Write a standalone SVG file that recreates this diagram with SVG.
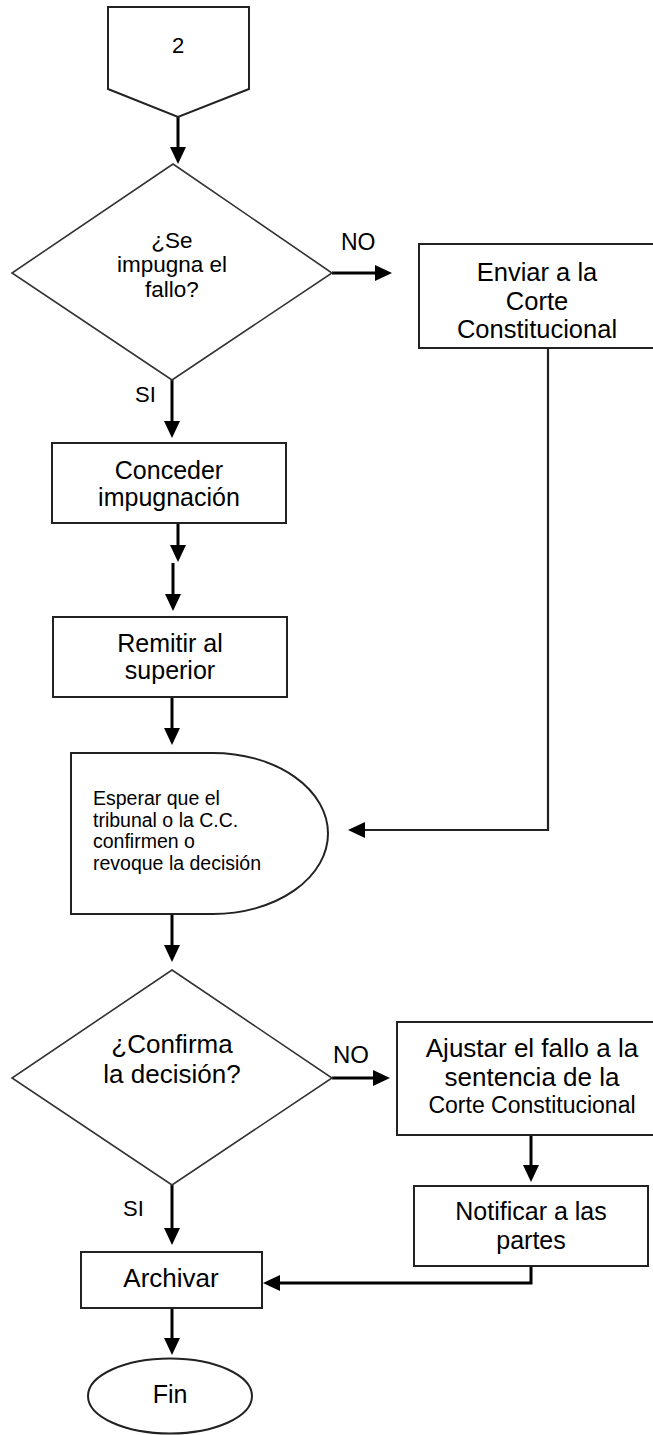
<svg xmlns="http://www.w3.org/2000/svg" width="653" height="1435" viewBox="0 0 653 1435">
<style>
  .shape { fill: #fff; stroke: #222; stroke-width: 2; }
  .dia { fill: #fff; stroke: #333; stroke-width: 1.6; }
  .conn { fill: none; stroke: #000; stroke-width: 3; }
  .thin { fill: none; stroke: #222; stroke-width: 2.2; }
  text { font-family: "Liberation Sans", Arial, sans-serif; fill: #000; }
  .c { text-anchor: middle; }
</style>
<defs>
  <marker id="ah" markerUnits="userSpaceOnUse" viewBox="0 0 17 16" refX="7" refY="8" markerWidth="17" markerHeight="16" orient="auto">
    <path d="M0,0 L17,8 L0,16 Z" fill="#000"/>
  </marker>
</defs>
<rect width="653" height="1435" fill="#fff"/>

<g id="connectors">
  <line class="conn" x1="178" y1="117" x2="178" y2="154" marker-end="url(#ah)"/>
  <line class="conn" x1="332" y1="273" x2="382" y2="273" marker-end="url(#ah)"/>
  <polyline class="thin" points="548,348 548,830 358,830" marker-end="url(#ah)"/>
  <line class="conn" x1="172" y1="380" x2="172" y2="428" marker-end="url(#ah)"/>
  <line class="conn" x1="178" y1="523" x2="178" y2="552" marker-end="url(#ah)"/>
  <line class="conn" x1="173" y1="563" x2="173" y2="601" marker-end="url(#ah)"/>
  <line class="conn" x1="172" y1="697" x2="172" y2="735" marker-end="url(#ah)"/>
  <line class="conn" x1="172" y1="914" x2="172" y2="952" marker-end="url(#ah)"/>
  <line class="conn" x1="332" y1="1078" x2="380" y2="1078" marker-end="url(#ah)"/>
  <line class="conn" x1="531" y1="1135" x2="531" y2="1172" marker-end="url(#ah)"/>
  <polyline class="conn" points="531,1266 531,1283 273,1283" marker-end="url(#ah)"/>
  <line class="conn" x1="172" y1="1185" x2="172" y2="1235" marker-end="url(#ah)"/>
  <line class="conn" x1="172" y1="1308" x2="172" y2="1345" marker-end="url(#ah)"/>
  <text x="341" y="250" font-size="23">NO</text>
  <text x="135" y="402" font-size="22">SI</text>
  <text x="333" y="1063" font-size="24">NO</text>
  <text x="123" y="1216" font-size="22">SI</text>
</g>

<g id="n-offpage">
  <polygon class="shape" points="108,7 249,7 249,89 178,117 108,89"/>
  <text class="c" x="178" y="53" font-size="22">2</text>
</g>

<g id="n-decision1">
  <polygon class="dia" points="173,164 332,273 172,380 12,273"/>
  <text class="c" x="172" y="248" font-size="22.5">¿Se</text>
  <text class="c" x="172" y="272" font-size="22.5">impugna el</text>
  <text class="c" x="172" y="297" font-size="22.5">fallo?</text>
</g>

<g id="n-enviar">
  <rect class="shape" x="419" y="244" width="240" height="104"/>
  <text class="c" x="537" y="281" font-size="25.5">Enviar a la</text>
  <text class="c" x="537" y="310" font-size="25.5">Corte</text>
  <text class="c" x="537" y="338" font-size="25.5">Constitucional</text>
</g>

<g id="n-conceder">
  <rect class="shape" x="52" y="443" width="234" height="80"/>
  <text class="c" x="169" y="479" font-size="25">Conceder</text>
  <text class="c" x="169" y="506" font-size="25">impugnación</text>
</g>

<g id="n-remitir">
  <rect class="shape" x="53" y="617" width="234" height="80"/>
  <text class="c" x="170" y="652" font-size="25">Remitir al</text>
  <text class="c" x="170" y="679" font-size="25">superior</text>
</g>

<g id="n-esperar">
  <path class="shape" d="M71,753 H213 A115,80.5 0 0 1 213,914 H71 Z"/>
  <text x="93" y="805" font-size="19.5">Esperar que el</text>
  <text x="93" y="827" font-size="19.5">tribunal o la C.C.</text>
  <text x="93" y="848" font-size="19.5">confirmen o</text>
  <text x="93" y="870" font-size="19.5">revoque la decisión</text>
</g>

<g id="n-decision2">
  <polygon class="dia" points="172,970 332,1078 172,1185 12,1078"/>
  <text class="c" x="172" y="1053" font-size="26">¿Confirma</text>
  <text class="c" x="172" y="1083" font-size="26">la decisión?</text>
</g>

<g id="n-ajustar">
  <rect class="shape" x="397" y="1022" width="260" height="113"/>
  <text class="c" x="532" y="1057" font-size="26">Ajustar el fallo a la</text>
  <text class="c" x="532" y="1086" font-size="26">sentencia de la</text>
  <text class="c" x="532" y="1113" font-size="23">Corte Constitucional</text>
</g>

<g id="n-notificar">
  <rect class="shape" x="414" y="1186" width="234" height="80"/>
  <text class="c" x="531" y="1220" font-size="25">Notificar a las</text>
  <text class="c" x="531" y="1249" font-size="25">partes</text>
</g>

<g id="n-archivar">
  <rect class="shape" x="81" y="1252" width="181" height="56"/>
  <text class="c" x="171" y="1287" font-size="26">Archivar</text>
</g>

<g id="n-fin">
  <ellipse class="shape" cx="170" cy="1396" rx="82" ry="37.5"/>
  <text class="c" x="170" y="1403" font-size="25">Fin</text>
</g>
</svg>
